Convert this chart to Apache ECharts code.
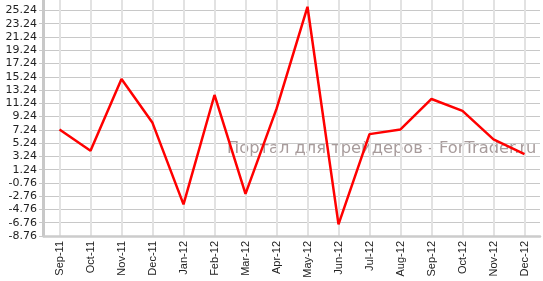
<!DOCTYPE html>
<html>
<head>
<meta charset="utf-8">
<script src="https://cdn.jsdelivr.net/npm/echarts@6/dist/echarts.min.js"></script>
<style>html,body{margin:0;padding:0;background:#fff}#c{width:543px;height:281px}</style>
</head>
<body>
<div id="c"></div>
<script>
var categories = ['Sep-11','Oct-11','Nov-11','Dec-11','Jan-12','Feb-12','Mar-12','Apr-12','May-12','Jun-12','Jul-12','Aug-12','Sep-12','Oct-12','Nov-12','Dec-12'];
var values = [7.3, 4.1, 14.9, 8.3, -4.0, 12.5, -2.4, 10.4, 25.8, -7.0, 6.6, 7.3, 11.9, 10.1, 5.8, 3.6];
var axisMin = -8.76;
var axisTop = 26.82;
var tickStep = 2;
var watermark = 'Портал для трейдеров - ForTrader.ru';

var shifted = values.map(function (v) { return v - axisMin; });

var chart = echarts.init(document.getElementById('c'), null, {renderer: 'canvas'});
chart.setOption({
  animation: false,
  backgroundColor: '#fff',
  grid: {left: 44, right: 3, top: 0, bottom: 45, containLabel: false},
  graphic: [{
    type: 'text', z: 0, left: 227, top: 141,
    style: {text: watermark, font: '16.3px "DejaVu Sans"', fill: '#a89c9c'}
  }],
  xAxis: {
    type: 'category', data: categories, boundaryGap: true,
    axisLine: {lineStyle: {color: '#cccccc', width: 2.5}},
    axisTick: {alignWithLabel: true, length: 4, lineStyle: {color: '#cccccc'}},
    axisLabel: {rotate: 90, margin: 5, color: '#222', fontFamily: 'Liberation Sans', fontSize: 11, interval: 0},
    splitLine: {show: true, alignWithLabel: true, lineStyle: {color: '#e2e2e2', width: 2}}
  },
  yAxis: {
    type: 'value', min: 0, max: axisTop - axisMin, interval: tickStep, offset: 1,
    axisLine: {show: true, lineStyle: {color: '#c8c8c8', width: 3}},
    axisTick: {show: true, length: 4, lineStyle: {color: '#c8c8c8'}},
    axisLabel: {color: '#222', fontFamily: 'DejaVu Sans', fontSize: 11, margin: 6, showMaxLabel: false,
      formatter: function (v) { return (v + axisMin).toFixed(2); }},
    splitLine: {show: true, showMaxLine: false, lineStyle: {color: '#c8c8c8', width: 1}}
  },
  series: [{
    type: 'line', data: shifted, showSymbol: false, symbol: 'none', z: 3,
    lineStyle: {color: '#ff0000', width: 2.5}
  }]
});
</script>
</body>
</html>
